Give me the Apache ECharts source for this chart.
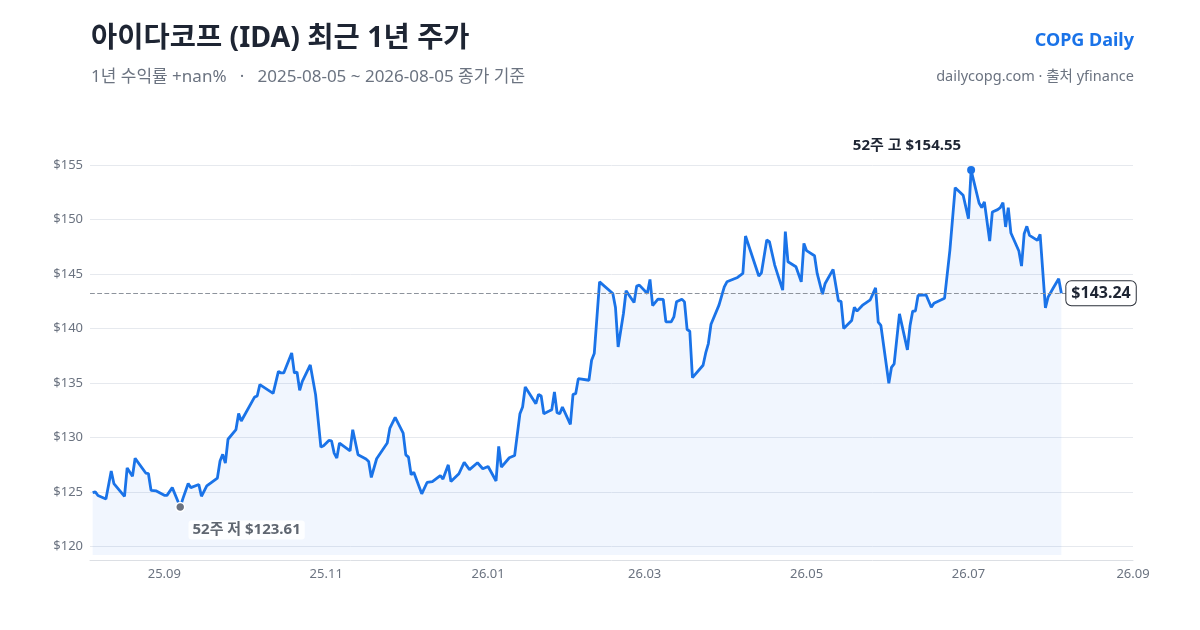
<!DOCTYPE html>
<html lang="ko">
<head>
<meta charset="utf-8">
<title>아이다코프 (IDA) 최근 1년 주가</title>
<script src="https://cdn.jsdelivr.net/npm/echarts@6/dist/echarts.min.js"></script>
<style>
    html, body { margin: 0; padding: 0; background: #fff; }
    #chart { width: 1200px; height: 630px; }
</style>
</head>
<body>
<div id="chart"></div>
<script>
// 종가 데이터
var dates = [
    '2025-08-05','2025-08-06','2025-08-07','2025-08-10','2025-08-12','2025-08-13','2025-08-17','2025-08-18',
    '2025-08-20','2025-08-21','2025-08-25','2025-08-26','2025-08-27','2025-08-29','2025-09-01','2025-09-02',
    '2025-09-04','2025-09-07','2025-09-08','2025-09-10','2025-09-11','2025-09-14','2025-09-15','2025-09-17',
    '2025-09-21','2025-09-22','2025-09-23','2025-09-24','2025-09-25','2025-09-28','2025-09-29','2025-09-30',
    '2025-10-05','2025-10-06','2025-10-07','2025-10-12','2025-10-14','2025-10-15','2025-10-16','2025-10-19',
    '2025-10-20','2025-10-21','2025-10-22','2025-10-23','2025-10-26','2025-10-28','2025-10-30','2025-10-31',
    '2025-11-02','2025-11-03','2025-11-04','2025-11-05','2025-11-06','2025-11-10','2025-11-11','2025-11-13',
    '2025-11-16','2025-11-17','2025-11-18','2025-11-20','2025-11-24','2025-11-25','2025-11-27','2025-11-30',
    '2025-12-01','2025-12-02','2025-12-03','2025-12-04','2025-12-07','2025-12-09','2025-12-11','2025-12-14',
    '2025-12-15','2025-12-17','2025-12-18','2025-12-21','2025-12-23','2025-12-25','2025-12-28','2025-12-30',
    '2026-01-01','2026-01-04','2026-01-05','2026-01-06','2026-01-09','2026-01-11','2026-01-13','2026-01-14',
    '2026-01-15','2026-01-19','2026-01-20','2026-01-21','2026-01-22','2026-01-24','2026-01-25','2026-01-26',
    '2026-01-27','2026-01-28','2026-01-29','2026-02-01','2026-02-02','2026-02-03','2026-02-04','2026-02-08',
    '2026-02-09','2026-02-10','2026-02-12','2026-02-17','2026-02-18','2026-02-19','2026-02-21','2026-02-22',
    '2026-02-25','2026-02-26','2026-02-27','2026-03-02','2026-03-03','2026-03-04','2026-03-06','2026-03-08',
    '2026-03-09','2026-03-11','2026-03-12','2026-03-13','2026-03-15','2026-03-16','2026-03-17','2026-03-18',
    '2026-03-19','2026-03-23','2026-03-24','2026-03-25','2026-03-26','2026-03-29','2026-03-31','2026-04-01',
    '2026-04-05','2026-04-07','2026-04-08','2026-04-13','2026-04-14','2026-04-16','2026-04-17','2026-04-19',
    '2026-04-22','2026-04-23','2026-04-24','2026-04-27','2026-04-29','2026-04-30','2026-05-01','2026-05-04',
    '2026-05-05','2026-05-07','2026-05-08','2026-05-11','2026-05-13','2026-05-14','2026-05-15','2026-05-18',
    '2026-05-19','2026-05-20','2026-05-22','2026-05-25','2026-05-27','2026-05-28','2026-05-29','2026-06-01',
    '2026-06-02','2026-06-03','2026-06-05','2026-06-08','2026-06-09','2026-06-10','2026-06-11','2026-06-12',
    '2026-06-15','2026-06-17','2026-06-18','2026-06-22','2026-06-24','2026-06-26','2026-06-29','2026-07-01',
    '2026-07-02','2026-07-05','2026-07-06','2026-07-07','2026-07-09','2026-07-10','2026-07-12','2026-07-13',
    '2026-07-14','2026-07-15','2026-07-16','2026-07-17','2026-07-20','2026-07-21','2026-07-22','2026-07-23',
    '2026-07-24','2026-07-27','2026-07-28','2026-07-30','2026-07-31','2026-08-02','2026-08-04','2026-08-05'
];
var closes = [
    124.93,125.00,124.66,124.35,126.92,125.76,124.59,127.20,
    126.43,128.08,126.73,126.68,125.14,125.08,124.68,124.68,
    125.39,123.61,124.38,125.76,125.39,125.67,124.59,125.54,
    126.27,127.84,128.45,127.65,129.83,130.72,132.19,131.51,
    133.70,133.80,134.85,134.05,136.07,135.92,135.92,137.76,
    135.92,136.01,134.33,135.15,136.66,133.93,129.11,129.23,
    129.72,129.69,128.56,128.10,129.48,128.77,130.71,128.40,
    128.01,127.79,126.32,128.04,129.48,130.86,131.84,130.40,
    128.40,128.19,126.56,126.81,124.82,125.86,125.95,126.50,
    126.17,127.48,125.95,126.66,127.70,127.04,127.67,127.12,
    127.33,126.00,129.17,127.27,128.13,128.34,132.18,132.79,
    134.63,133.10,133.96,133.80,132.18,132.42,132.55,134.17,
    132.27,132.18,132.79,131.20,133.96,134.02,135.40,135.25,
    137.09,137.70,144.29,143.22,141.93,138.31,141.38,143.47,
    142.39,143.90,143.99,143.22,144.51,142.10,142.70,142.67,
    140.61,140.61,141.07,142.45,142.70,142.45,139.91,139.75,
    135.49,136.63,137.76,138.62,140.40,142.15,143.83,144.29,
    144.69,145.06,148.50,144.82,145.12,148.13,147.98,145.83,
    143.53,148.90,146.13,145.67,144.29,147.82,147.15,146.69,
    145.06,143.16,144.14,145.43,142.55,142.50,140.00,140.74,
    141.96,141.60,142.12,142.64,143.74,140.58,140.28,134.97,
    136.44,136.75,141.35,138.04,140.28,141.60,141.60,143.04,
    143.10,141.96,142.33,142.79,147.18,152.94,152.24,150.09,
    154.55,151.53,151.10,151.63,148.04,150.71,150.92,151.10,
    151.56,149.33,151.10,148.77,147.12,145.74,148.71,149.39,
    148.56,148.10,148.65,141.90,142.88,143.74,144.57,143.24
];
// x축 눈금 (두 달 간격)
var monthTicks = ['2025-09-01','2025-11-01','2026-01-01','2026-03-01','2026-05-01','2026-07-01','2026-09-01'];

var BLUE = '#1a73e8';
var FONT = '"Noto Sans", "Noto Sans CJK KR", sans-serif';

function toTime(s) {
    var p = s.split('-');
    return new Date(+p[0], +p[1] - 1, +p[2]).getTime();
}
function pad(n) { return n < 10 ? '0' + n : '' + n; }

var lastDate = toTime(dates[dates.length - 1]);
var lastClose = closes[closes.length - 1];

var chart = echarts.init(document.getElementById('chart'));

var option = {
    animation: false,
    backgroundColor: '#fff',
    textStyle: { fontFamily: FONT },
    title: [
        {
            text: '아이다코프 (IDA) 최근 1년 주가',
            left: 91, top: 25, padding: 0,
            textStyle: { fontSize: 28.5, fontWeight: 'bold', color: '#1e2533', fontFamily: FONT }
        },
        {
            text: '1년 수익률 +nan%   ·   2025-08-05 ~ 2026-08-05 종가 기준',
            left: 91, top: 69, padding: 0,
            textStyle: { fontSize: 17, fontWeight: 'normal', color: '#6b7380', fontFamily: FONT }
        },
        {
            text: 'COPG Daily',
            right: 66, top: 32, padding: 0,
            textStyle: { fontSize: 18, fontWeight: 'bold', color: BLUE, fontFamily: FONT }
        },
        {
            text: 'dailycopg.com · 출처 yfinance',
            right: 66, top: 70, padding: 0,
            textStyle: { fontSize: 14.5, fontWeight: 'normal', color: '#6b7380', fontFamily: FONT }
        }
    ],
    grid: { left: 90, right: 67, top: 138, bottom: 75 },
    xAxis: {
        // 날짜는 타임스탬프 값으로 다룬다
        type: 'value',
        min: toTime('2025-08-04'),
        max: toTime('2026-09-01'),
        offset: 5,
        axisLine: { lineStyle: { color: '#dcdfe4' } },
        axisTick: { show: false },
        splitLine: { show: false },
        axisLabel: {
            customValues: monthTicks.map(toTime),
            color: '#6b7380',
            fontSize: 13,
            margin: 8,
            formatter: function (v) {
                var d = new Date(v);
                return String(d.getFullYear()).slice(2) + '.' + pad(d.getMonth() + 1);
            }
        }
    },
    yAxis: {
        type: 'value',
        min: 119.2,
        max: 157.5,
        splitNumber: 7,
        axisLine: { show: false },
        axisTick: { show: false },
        splitLine: { lineStyle: { color: '#e6e9ee' }, showMinLine: false, showMaxLine: false },
        axisLabel: {
            color: '#6b7380',
            fontSize: 13,
            margin: 7,
            showMinLabel: false,
            showMaxLabel: false,
            formatter: function (v) { return '$' + v; }
        }
    },
    series: [{
        name: '종가',
        type: 'line',
        data: dates.map(function (d, i) { return [toTime(d), closes[i]]; }),
        showSymbol: false,
        lineStyle: { color: BLUE, width: 2.8 },
        itemStyle: { color: BLUE },
        areaStyle: { color: 'rgba(26,115,232,0.09)' },
        emphasis: { disabled: true },
        markLine: {
            silent: true,
            symbol: 'none',
            label: { show: false },
            lineStyle: { color: '#8d939c', type: 'dashed', width: 1.2 },
            data: [{ yAxis: lastClose }]
        },
        markPoint: {
            silent: true,
            symbol: 'circle',
            symbolSize: 8,
            data: [
                {
                    type: 'max', name: '52주 고',
                    itemStyle: { color: BLUE },
                    label: {
                        position: 'left', distance: 6, offset: [0, -24],
                        formatter: function (p) { return '52주 고 $' + p.value.toFixed(2); },
                        color: '#1e2533', fontSize: 15, fontWeight: 'bold', fontFamily: FONT
                    }
                },
                {
                    type: 'min', name: '52주 저',
                    symbolSize: 9,
                    itemStyle: { color: '#6b7280', borderColor: '#fff', borderWidth: 1.5 },
                    label: {
                        position: 'right', distance: 3, offset: [0, 23],
                        formatter: function (p) { return '52주 저 $' + p.value.toFixed(2); },
                        color: '#5f6670', fontSize: 15, fontWeight: 'bold', fontFamily: FONT,
                        backgroundColor: 'rgba(255,255,255,0.85)', padding: [2, 4], borderRadius: 3
                    }
                },
                {
                    coord: [lastDate, lastClose],
                    symbolSize: 0,
                    label: {
                        position: 'right', distance: 5,
                        formatter: '$' + lastClose.toFixed(2),
                        color: '#1e2533', fontSize: 16, fontWeight: 'bold', fontFamily: FONT,
                        backgroundColor: '#fff', borderColor: '#2a2f38', borderWidth: 1,
                        borderRadius: 5, padding: [4, 5]
                    }
                }
            ]
        }
    }]
};

chart.setOption(option);
</script>
</body>
</html>
